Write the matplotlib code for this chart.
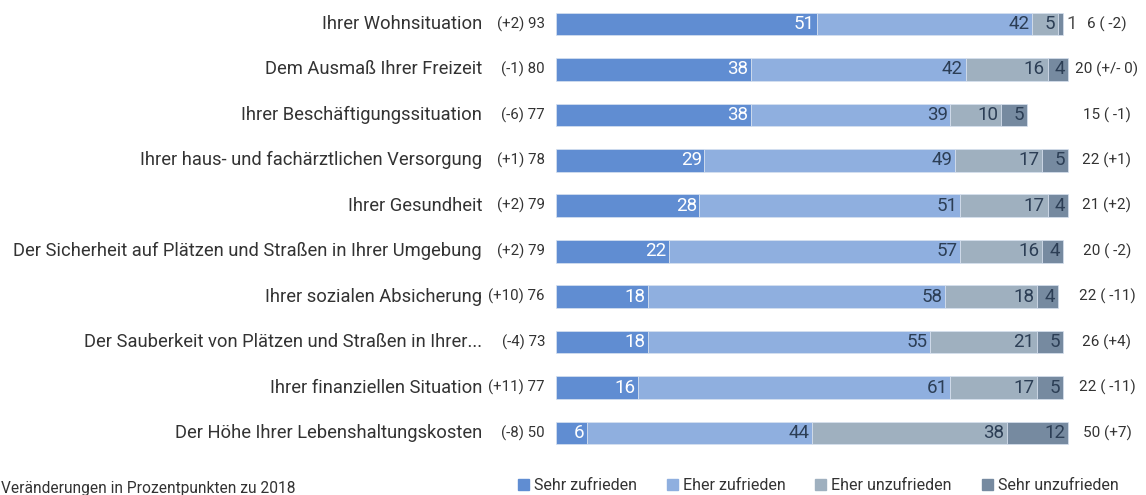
import matplotlib
matplotlib.use('Agg')
import matplotlib.pyplot as plt
from matplotlib.patches import Rectangle

plt.rcParams['font.family'] = ['Roboto', 'DejaVu Sans']

categories = [
    'Ihrer Wohnsituation',
    'Dem Ausmaß Ihrer Freizeit',
    'Ihrer Beschäftigungssituation',
    'Ihrer haus- und fachärztlichen Versorgung',
    'Ihrer Gesundheit',
    'Der Sicherheit auf Plätzen und Straßen in Ihrer Umgebung',
    'Ihrer sozialen Absicherung',
    'Der Sauberkeit von Plätzen und Straßen in Ihrer...',
    'Ihrer finanziellen Situation',
    'Der Höhe Ihrer Lebenshaltungskosten',
]
sehr_zufrieden = [51, 38, 38, 29, 28, 22, 18, 18, 16, 6]
eher_zufrieden = [42, 42, 39, 49, 51, 57, 58, 55, 61, 44]
eher_unzufrieden = [5, 16, 10, 17, 17, 16, 18, 21, 17, 38]
sehr_unzufrieden = [1, 4, 5, 5, 4, 4, 4, 5, 5, 12]
left_labels = ['(+2) 93', '(-1) 80', '(-6) 77', '(+1) 78', '(+2) 79',
               '(+2) 79', '(+10) 76', '(-4) 73', '(+11) 77', '(-8) 50']
right_labels = ['6 ( -2)', '20 (+/- 0)', '15 ( -1)', '22 (+1)', '21 (+2)',
                '20 ( -2)', '22 ( -11)', '26 (+4)', '22 ( -11)', '50 (+7)']
series_names = ['Sehr zufrieden', 'Eher zufrieden', 'Eher unzufrieden', 'Sehr unzufrieden']
colors = ['#608dd2', '#8fafdf', '#9fb0bf', '#768aa0']

W, H = 1146, 495
fig = plt.figure(figsize=(W / 100, H / 100), dpi=100)

# bar axis: 0..100 maps to x pixels 556..1068
x0, px = 556, 5.12
y0, py = 24, 45.44
ax = fig.add_axes([0, 0, 1, 1])
ax.set_xlim(-x0 / px, (W - x0) / px)
ax.set_ylim(9 + (H - 433) / py, -y0 / py)
ax.axis('off')

series = [sehr_zufrieden, eher_zufrieden, eher_unzufrieden, sehr_unzufrieden]
ypos = list(range(len(categories)))
left = [0] * len(categories)
for i, vals in enumerate(series):
    ax.barh(ypos, vals, left=left, height=0.5, color=colors[i],
            edgecolor='#d8e2f0', linewidth=0.5)
    for j, v in enumerate(vals):
        end = left[j] + v
        tc = 'white' if i == 0 else '#2c3e55'
        if v >= 2:
            ax.text(end - 0.5, j, str(v), ha='right', va='center',
                    fontsize=13.5, color=tc)
        else:
            ax.text(end + 0.6, j, str(v), ha='left', va='center',
                    fontsize=13.5, color='#555555')
    left = [l + v for l, v in zip(left, vals)]

for j, cat in enumerate(categories):
    ax.text(-74 / px, j, cat, ha='right', va='center', fontsize=13.2, color='#333333')
    ax.text(-11 / px, j, left_labels[j], ha='right', va='center', fontsize=10.8, color='#333333')
    ax.text((1107 - x0) / px, j, right_labels[j], ha='center', va='center',
            fontsize=11, color='#333333')

# legend
leg_x = [518, 667, 815, 982]
for name, c, lx in zip(series_names, colors, leg_x):
    fig.patches.append(Rectangle((lx / W, 1 - 490 / H), 11 / W, 11 / H,
                                 transform=fig.transFigure, color=c))
    fig.text((lx + 16) / W, 1 - 485 / H, name, ha='left', va='center',
             fontsize=11.5, color='#333333')

fig.text(1 / W, 1 - 489 / H, 'Veränderungen in Prozentpunkten zu 2018',
         ha='left', va='center', fontsize=11.2, color='#333333')

fig.savefig('out.png', dpi=100)
